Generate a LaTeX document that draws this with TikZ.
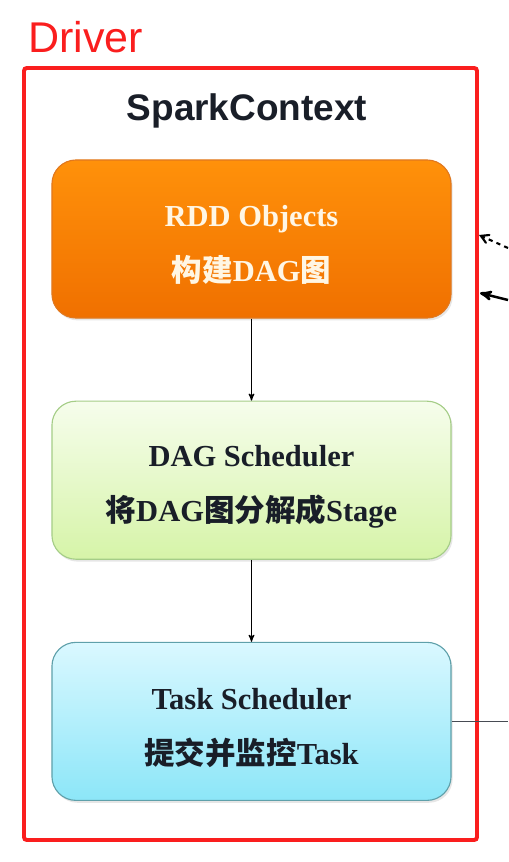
\documentclass[tikz,border=0pt]{standalone}
\usepackage{fontspec}
\setmainfont{Liberation Serif}
\setsansfont{Liberation Sans}
\newfontfamily\cjk{Noto Sans CJK SC}
\usepackage{tikz}
\usetikzlibrary{positioning,arrows,shadows}

\definecolor{drvred}{RGB}{250,30,30}
\definecolor{rddtop}{RGB}{255,145,10}
\definecolor{rddbot}{RGB}{240,112,0}
\definecolor{rddline}{RGB}{225,120,30}
\definecolor{rddtext}{RGB}{255,246,228}
\definecolor{dagtop}{RGB}{246,253,236}
\definecolor{dagbot}{RGB}{214,244,168}
\definecolor{dagline}{RGB}{165,205,135}
\definecolor{tsktop}{RGB}{218,248,255}
\definecolor{tskbot}{RGB}{140,230,248}
\definecolor{tskline}{RGB}{95,160,170}
\definecolor{ink}{RGB}{25,30,40}

\newcommand{\lift}{\rule{0pt}{24pt}}

\begin{document}
\begin{tikzpicture}[->,>=stealth',auto,node distance=2.05cm,
                    semithick,x=0.025cm,y=-0.025cm]
  \tikzstyle{stage}=[rounded corners=0.6cm,minimum width=9.975cm,
                     minimum height=3.95cm,align=center,draw,line width=0.8pt,
                     font=\bfseries\fontsize{21.7}{39}\selectfont,
                     drop shadow={opacity=0.2,shadow xshift=0.04cm,shadow yshift=-0.06cm}]

  \useasboundingbox (0,0) rectangle (508,862);

  % driver frame
  \node[anchor=base west,inner sep=0pt,text=drvred,
        font=\sffamily\fontsize{30.6}{36}\selectfont] (driver) at (28,52) {Driver};
  \draw[-,drvred,line width=2.8pt,rounded corners=2pt] (24,68) rectangle (477,840);
  \node[anchor=base,inner sep=0pt,text=ink,
        font=\sffamily\bfseries\fontsize{26.3}{30}\selectfont] (sc) at (247,120) {SparkContext};

  % the three stages
  \node[stage,draw=rddline,top color=rddtop,bottom color=rddbot,text=rddtext]
        (rdd) at (251.5,239) {\lift RDD Objects\\{\cjk 构建}DAG{\cjk 图}};
  \node[stage,draw=dagline,top color=dagtop,bottom color=dagbot,text=ink]
        (dag) [below=of rdd] {\lift DAG Scheduler\\{\cjk 将}DAG{\cjk 图分解成}Stage};
  \node[stage,draw=tskline,top color=tsktop,bottom color=tskbot,text=ink]
        (task) [below=of dag] {\lift Task Scheduler\\{\cjk 提交并监控}Task};

  \draw[line width=0.8pt] (rdd) -- (dag);
  \draw[line width=0.8pt] (dag) -- (task);

  % links leaving the frame
  \coordinate (outT) at (508,721);
  \draw[-,line width=1pt,ink!80] (task.east) -- (task.east -| outT);

  \coordinate (inA) at (508,248);
  \coordinate (tipA) at (479,235);
  \coordinate (inB) at (508,300);
  \coordinate (tipB) at (480,293);
  \draw[dashed,line width=1.5pt,>=angle 60] (inA) -- (tipA);
  \draw[line width=1.8pt,>=stealth'] (inB) -- (tipB);
\end{tikzpicture}
\end{document}
